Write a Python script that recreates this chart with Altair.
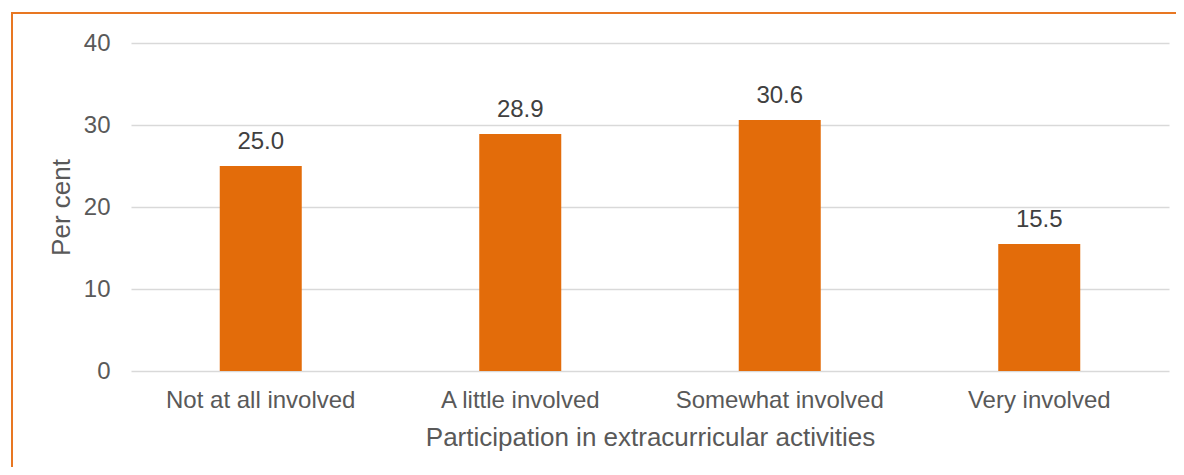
import altair as alt
import pandas as pd

categories = ["Not at all involved", "A little involved", "Somewhat involved", "Very involved"]
values = [25.0, 28.9, 30.6, 15.5]
y_ticks = [0, 10, 20, 30, 40]

df = pd.DataFrame({"cat": categories, "val": values})
df["label"] = [f"{v:.1f}" for v in values]

FONT = "Liberation Sans"
ORANGE = "#E36C0A"

x_enc = alt.X("cat:N", sort=categories,
              scale=alt.Scale(paddingInner=0, paddingOuter=0),
              axis=alt.Axis(title="Participation in extracurricular activities", labelAngle=0,
                            labelFontSize=24, labelColor="#595959", labelFont=FONT,
                            labelLimit=400,
                            titleFontSize=26, titleColor="#595959", titleFont=FONT,
                            titleFontWeight="normal", labelPadding=17, titlePadding=12,
                            ticks=False, domain=False, grid=False))
y_enc = alt.Y("val:Q", scale=alt.Scale(domain=[0, 40]),
              axis=alt.Axis(title="Per cent", values=y_ticks, tickCount=5,
                            labelFontSize=24, labelColor="#595959", labelFont=FONT,
                            titleFontSize=26, titleColor="#595959", titleFont=FONT,
                            titleFontWeight="normal", labelPadding=21, titlePadding=9,
                            ticks=False, domain=False, grid=True,
                            gridColor="#D9D9D9", gridWidth=1.5))

bars = alt.Chart(df).mark_bar(color=ORANGE, width=alt.RelativeBandSize(0.316)).encode(x=x_enc, y=y_enc)
labels = alt.Chart(df).mark_text(dy=-17, baseline="alphabetic", fontSize=24,
                                 color="#404040", font=FONT).encode(
    x=alt.X("cat:N", sort=categories), y="val:Q", text="label:N")

frame_left = alt.Chart(df.head(1)).mark_rule(color="#E87722", strokeWidth=2).encode(
    x=alt.value(-119), y=alt.value(-30), y2=alt.value(500))
frame_top = alt.Chart(df.head(1)).mark_rule(color="#E87722", strokeWidth=2).encode(
    x=alt.value(-120), x2=alt.value(1100), y=alt.value(-30))

chart = alt.layer(bars, labels, frame_left, frame_top).properties(
    width=1038, height=328,
    autosize=alt.AutoSizeParams(type="none"),
    padding={"left": 123, "top": 35, "right": 7, "bottom": 96},
).configure_view(stroke=None)

chart.save("out.html", embed_options={"renderer": "svg", "actions": False})
